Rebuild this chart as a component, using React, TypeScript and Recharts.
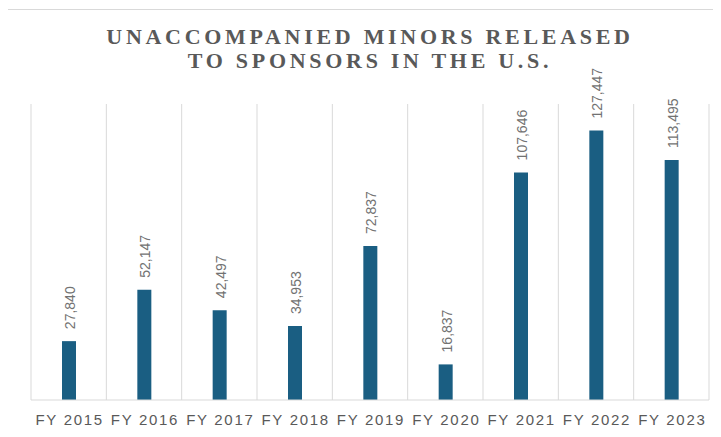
import React from 'react';
import { BarChart, Bar, XAxis, YAxis, CartesianGrid, LabelList } from 'recharts';

const years = ['FY 2015', 'FY 2016', 'FY 2017', 'FY 2018', 'FY 2019', 'FY 2020', 'FY 2021', 'FY 2022', 'FY 2023'];
const released = [27840, 52147, 42497, 34953, 72837, 16837, 107646, 127447, 113495];
const titleLines = ['UNACCOMPANIED MINORS RELEASED', 'TO SPONSORS IN THE U.S.'];

const data = years.map((year, i) => ({ year, released: released[i] }));

const GRID = '#d9d9d9';
const BAR = '#1a5e82';
const TEXT = '#595959';

// vertical grid lines sit between categories, not on them
const boundaryLines = ({ offset }: any) =>
  Array.from({ length: years.length + 1 }, (_, i) => offset.left + (i * offset.width) / years.length);

const ValueLabel = (props: any) => {
  const { x, y, width, value } = props;
  const cx = x + width / 2 + 1;
  const ty = y - 12;
  return (
    <text
      x={cx}
      y={ty}
      transform={`rotate(-90, ${cx}, ${ty})`}
      textAnchor="start"
      dominantBaseline="central"
      fontFamily="'Liberation Sans', Arial, sans-serif"
      fontSize={14}
      fill="#727272"
    >
      {Number(value).toLocaleString('en-US')}
    </text>
  );
};

const YearTick = (props: any) => {
  const { x, payload } = props;
  return (
    <text
      x={x + 1}
      y={417}
      textAnchor="middle"
      fontFamily="'Liberation Sans', Arial, sans-serif"
      fontSize={15}
      letterSpacing={1.7}
      fill={TEXT}
    >
      {payload.value}
    </text>
  );
};

export default function App() {
  return (
    <div style={{ position: 'relative', width: 713, height: 429 }}>
      <div
        style={{
          position: 'absolute',
          left: -1,
          top: 1,
          width: 713,
          height: 428,
          borderTop: `1px solid ${GRID}`,
          borderLeft: `1px solid ${GRID}`,
          boxSizing: 'border-box',
        }}
      />
      <div
        style={{
          position: 'absolute',
          left: 23,
          top: 17,
          width: 678,
          textAlign: 'center',
          fontFamily: "'Liberation Serif', 'Times New Roman', serif",
          fontWeight: 'bold',
          fontSize: 22,
          lineHeight: '24px',
          letterSpacing: 3.7,
          color: TEXT,
        }}
      >
        {titleLines.map((line) => (
          <div key={line}>{line}</div>
        ))}
      </div>
      <div style={{ position: 'absolute', left: 0, top: 0 }}>
        <BarChart width={713} height={428} data={data} margin={{ top: 96, right: 12, bottom: 0, left: 23 }}>
          <CartesianGrid horizontal={false} stroke={GRID} verticalCoordinatesGenerator={boundaryLines} />
          <XAxis
            dataKey="year"
            height={36}
            axisLine={{ stroke: GRID }}
            tickLine={false}
            tick={<YearTick />}
            interval={0}
          />
          <YAxis hide domain={[0, 140000]} />
          <Bar dataKey="released" fill={BAR} barSize={14} isAnimationActive={false}>
            <LabelList dataKey="released" content={<ValueLabel />} />
          </Bar>
        </BarChart>
      </div>
    </div>
  );
}
